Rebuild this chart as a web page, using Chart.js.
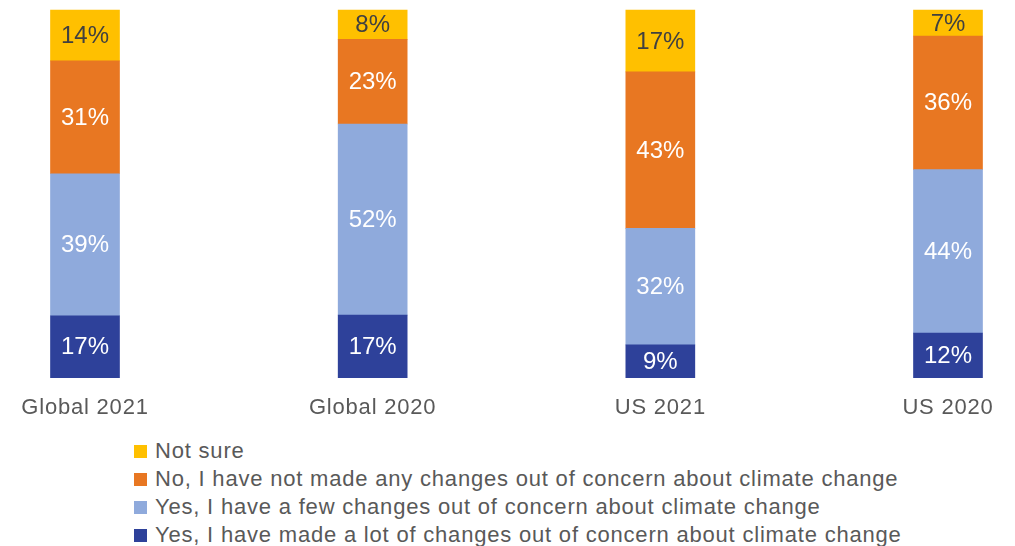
<!DOCTYPE html>
<html>
<head>
<meta charset="utf-8">
<script src="https://cdn.jsdelivr.net/npm/chart.js@4"></script>
<style>
  body { margin: 0; background: #fff; font-family: "Liberation Sans", Arial, sans-serif; }
  #wrap { position: relative; width: 1015px; height: 546px; }
  #legend { position: absolute; left: 134px; top: 437px; color: #595959; font-size: 22px; letter-spacing: 0.8px; }
  #legend div { height: 28px; line-height: 28px; white-space: nowrap; }
  #legend span.box { display: inline-block; width: 13px; height: 13px; margin-right: 8px; vertical-align: 0px; }
</style>
</head>
<body>
<div id="wrap">
  <canvas id="myChart" width="1015" height="430"></canvas>
  <div id="legend"></div>
</div>
<script>
const categories = ["Global 2021", "Global 2020", "US 2021", "US 2020"];
const lotOfChanges = [17, 17, 9, 12];
const fewChanges = [39, 52, 32, 44];
const noChanges = [31, 23, 43, 36];
const notSure = [14, 8, 17, 7];

const seriesNames = [
  "Yes, I have made a lot of changes out of concern about climate change",
  "Yes, I have a few changes out of concern about climate change",
  "No, I have not made any changes out of concern about climate change",
  "Not sure",
];
const seriesColors = ["#2E419A", "#8FAADC", "#E87722", "#FFC000"];
const labelColors = ["#ffffff", "#ffffff", "#ffffff", "#404040"];
const raw = [lotOfChanges, fewChanges, noChanges, notSure];

// 100% stacked: scale each column to its own total
const totals = categories.map((c, i) => raw.reduce((s, arr) => s + arr[i], 0));

// the axis text in the reference is a bit wider than Liberation Sans
const spacing = {
  id: "spacing",
  beforeDraw(chart) {
    chart.ctx.letterSpacing = "0.8px";
  },
};

const valueLabels = {
  id: "valueLabels",
  afterDatasetsDraw(chart) {
    const ctx = chart.ctx;
    ctx.save();
    ctx.letterSpacing = "0px";
    ctx.font = '24px "Liberation Sans", Arial, sans-serif';
    ctx.textAlign = "center";
    ctx.textBaseline = "middle";
    chart.data.datasets.forEach((ds, di) => {
      chart.getDatasetMeta(di).data.forEach((bar, i) => {
        const mid = (bar.y + bar.base) / 2;
        ctx.fillStyle = labelColors[di];
        ctx.fillText(raw[di][i] + "%", bar.x, mid + 1);
      });
    });
    ctx.restore();
  },
};

const ctx = document.getElementById("myChart").getContext("2d");
const myChart = new Chart(ctx, {
  type: "bar",
  data: {
    labels: categories,
    datasets: raw.map((arr, di) => ({
      label: seriesNames[di],
      data: arr.map((v, i) => (v / totals[i]) * 100),
      backgroundColor: seriesColors[di],
      borderWidth: 0,
      barThickness: 69,
      clip: false,
    })),
  },
  options: {
    responsive: false,
    animation: false,
    layout: { padding: { left: 85, right: 67, top: 10, bottom: 0 } },
    plugins: { legend: { display: false }, tooltip: { enabled: false } },
    scales: {
      x: {
        stacked: true,
        offset: false,
        grid: { display: false },
        border: { display: false },
        ticks: {
          color: "#595959",
          font: { size: 22, family: '"Liberation Sans", Arial, sans-serif' },
          padding: 9,
          maxRotation: 0,
        },
      },
      y: {
        stacked: true,
        min: 0,
        max: 100,
        display: false,
      },
    },
  },
  plugins: [spacing, valueLabels],
});

// legend, reversed like the reference
const legend = document.getElementById("legend");
for (let di = raw.length - 1; di >= 0; di--) {
  const row = document.createElement("div");
  const box = document.createElement("span");
  box.className = "box";
  box.style.background = seriesColors[di];
  row.appendChild(box);
  row.appendChild(document.createTextNode(seriesNames[di]));
  legend.appendChild(row);
}
</script>
</body>
</html>
